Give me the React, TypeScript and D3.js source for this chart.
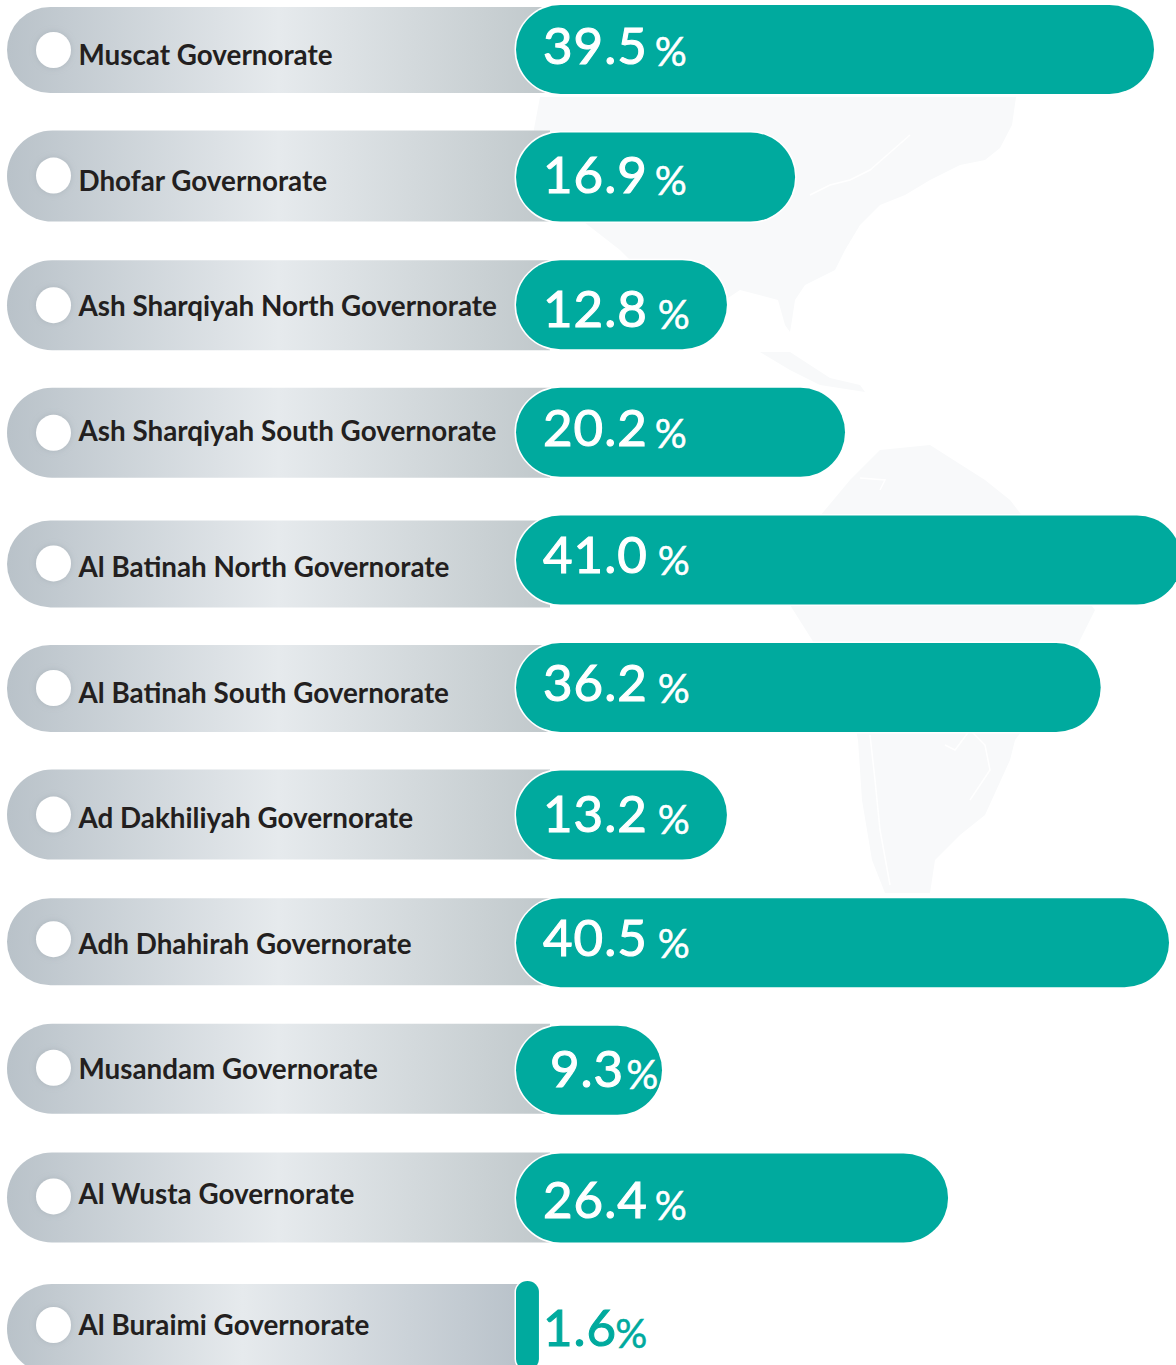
import React from "react";
import * as d3 from "d3";

const categories = [
  "Muscat Governorate", "Dhofar Governorate", "Ash Sharqiyah North Governorate",
  "Ash Sharqiyah South Governorate", "Al Batinah North Governorate", "Al Batinah South Governorate",
  "Ad Dakhiliyah Governorate", "Adh Dhahirah Governorate", "Musandam Governorate",
  "Al Wusta Governorate", "Al Buraimi Governorate",
];
const valueLabels = ["39.5", "16.9", "12.8", "20.2", "41.0", "36.2", "13.2", "40.5", "9.3", "26.4", "1.6"];
// Drawn bar lengths as they appear in the picture (the source infographic is not strictly proportional)
const barLengths = [39.5, 17.28, 13.06, 20.37, 41.2, 36.2, 13.06, 40.43, 9.04, 26.75, 1.42];

// Layout, per row, relative to the teal bar's top
const grayTop = [2, -2, 0, 0, 5, 2, -1, 0, -2, -1, 3];
const grayHeight = [86, 91, 90, 90, 87, 87, 90, 87, 90, 90, 90];
const circleDy = [45, 43, 45, 45, 48, 45, 44, 41, 42, 43, 44];
const labelDy = [60, 58, 56, 53, 62, 60, 57, 56, 53, 51, 54];
const valueDy = [59, 60, 67, 58, 58, 58, 61, 58, 61, 65, 65];
const pctGap = [7, 7, 10, 7, 10, 10, 10, 10, 2, 7, -2];

const W = 1176, H = 1365;
const BAR_X = 516, BAR_H = 89;
const x = d3.scaleLinear().domain([0, 39.5]).range([BAR_X, 1154]);
const y = d3.scaleLinear().domain([0, 10]).range([5, 1281]);

const northAmerica = "M700 97 L1016 97 L1012 125 L1000 148 L985 160 L960 165 L930 180 L905 195 L880 205 L860 225 L845 250 L835 270 L805 285 L795 300 L792 320 L790 332 L785 325 L778 300 L740 290 L725 300 L715 320 L700 345 L690 350 L680 330 L660 290 L620 250 L575 215 L540 215 L530 150 L540 97 Z";
const cuba = "M760 352 L790 352 L830 378 L860 385 L865 392 L820 385 L790 370 Z";
const southAmerica = "M850 480 L880 450 L930 445 L985 480 L1010 500 L1095 610 L1060 680 L1015 740 L1010 760 L985 815 L960 835 L935 860 L930 893 L885 893 L872 860 L862 800 L858 740 L850 700 L790 605 L800 540 Z";
const mapBorders = [
  "M810 195 L830 185 L850 180 L870 170 L910 135",
  "M880 490 L885 480 L860 478",
  "M945 745 L955 750 L970 730 L985 745 L990 770 L970 800",
  "M870 735 L875 780 L880 830 L890 885",
];

export default function App() {
  const font = "Lato, 'Open Sans', sans-serif";
  return (
    <svg width={W} height={H} viewBox={`0 0 ${W} ${H}`} style={{ position: "absolute", left: 0, top: 0, background: "#fff" }}>
      <defs>
        <linearGradient id="gray" gradientUnits="userSpaceOnUse" x1="7" x2="550" y1="0" y2="0">
          <stop offset="0" stopColor="#b9c2c9" />
          <stop offset="0.5" stopColor="#e6eaed" />
          <stop offset="1" stopColor="#c0c8cb" />
        </linearGradient>
        <linearGradient id="grayLast" gradientUnits="userSpaceOnUse" x1="7" x2="520" y1="0" y2="0">
          <stop offset="0" stopColor="#b9c2c9" />
          <stop offset="0.46" stopColor="#e6eaed" />
          <stop offset="1" stopColor="#b9c2ca" />
        </linearGradient>
        <filter id="soft" x="-40%" y="-40%" width="180%" height="180%">
          <feDropShadow dx="0" dy="0" stdDeviation="3" floodColor="#8f9aa2" floodOpacity="0.4" />
        </filter>
      </defs>

      <g fill="#f8f9fa">
        <path d={northAmerica} />
        <path d={cuba} />
        <path d={southAmerica} />
      </g>
      <g fill="none" stroke="#fff" strokeWidth={1.5}>
        {mapBorders.map((d) => <path key={d} d={d} />)}
      </g>

      {categories.map((c, i) => {
        const top = y(i);
        const last = i === categories.length - 1;
        const gt = top + grayTop[i];
        const gh = grayHeight[i];
        const gr = gh / 2;
        const gEnd = last ? 520 : 550;
        const grayPath = d3.path();
        grayPath.moveTo(gEnd, gt);
        grayPath.lineTo(7 + gr, gt);
        grayPath.arc(7 + gr, gt + gr, gr, -Math.PI / 2, Math.PI / 2, true);
        grayPath.lineTo(gEnd, gt + gh);
        grayPath.closePath();
        const barW = x(barLengths[i]) - BAR_X;
        const r = Math.min(BAR_H / 2, barW / 2);
        return (
          <g key={c}>
            <path d={grayPath.toString()} fill={last ? "url(#grayLast)" : "url(#gray)"} />
            <ellipse cx={53.5} cy={top + circleDy[i]} rx={17.5} ry={18} fill="#fff" filter="url(#soft)" />
            <text x={78.5} y={top + labelDy[i]} fontFamily={font} fontWeight={700} fontSize={27.8} fill="#231f20">{c}</text>
            <rect x={BAR_X} y={top} width={barW} height={BAR_H} rx={r} ry={last ? 11 : r} fill="#00aa9e" stroke="#fff" strokeWidth={3} paintOrder="stroke" />
            <text
              x={i === 8 ? 550 : 543}
              y={top + valueDy[i]}
              fontFamily={font}
              fontWeight={400}
              fontSize={51}
              letterSpacing={1}
              fill={last ? "#00aa9e" : "#fff"}
              stroke={last ? "#00aa9e" : "#fff"}
              strokeWidth={1.1}
            >
              {valueLabels[i]}
              <tspan dx={pctGap[i]} dy={2} fontSize={40} letterSpacing={0} strokeWidth={0.5}>%</tspan>
            </text>
          </g>
        );
      })}
    </svg>
  );
}
